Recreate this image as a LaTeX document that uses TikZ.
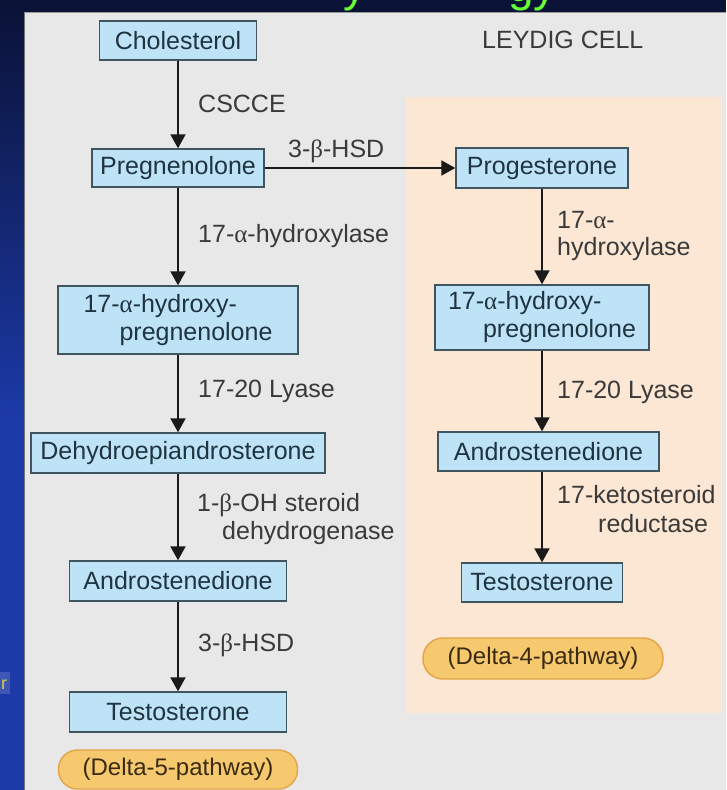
\documentclass[tikz,border=0pt]{standalone}
\usepackage{fontspec}
\setmainfont{Liberation Sans}
\newfontfamily\grk{Liberation Serif}
\usetikzlibrary{arrows.meta}
\definecolor{navy}{HTML}{0A1236}
\definecolor{stripblue}{HTML}{1C3AA8}
\definecolor{panelgrey}{HTML}{E8E8E9}
\definecolor{peach}{HTML}{FBE7D3}
\definecolor{boxfill}{HTML}{BFE3F6}
\definecolor{boxline}{HTML}{3F5661}
\definecolor{boxtext}{HTML}{1F3441}
\definecolor{lbltext}{HTML}{3A3A3A}
\definecolor{pillfill}{HTML}{F6C96F}
\definecolor{pillline}{HTML}{E2A446}
\definecolor{pilltext}{HTML}{3A2A12}
\definecolor{titlegreen}{HTML}{66FF33}
\definecolor{arrowc}{HTML}{1A1A1A}
\definecolor{fragyellow}{HTML}{D8CF45}
\newcommand\myal{{\grk α}}
\newcommand\mybe{{\grk β}}
\begin{document}
\begin{tikzpicture}[x=1pt,y=-1pt,
  box/.style={draw=boxline,line width=1.4pt,fill=boxfill,text=boxtext,inner sep=0pt,font=\fontsize{25}{28}\selectfont},
  lbl/.style={anchor=base west,inner sep=0pt,text=lbltext,font=\fontsize{25}{28}\selectfont},
  pill/.style={draw=pillline,line width=1.4pt,fill=pillfill,text=pilltext,rounded corners=19pt,inner sep=0pt,font=\fontsize{24}{28}\selectfont},
  arr/.style={draw=arrowc,line width=2pt,-{Triangle[length=14pt,width=15pt]}},
  frag/.style={anchor=base west,inner sep=0pt,text=titlegreen,font=\fontsize{46}{50}\selectfont}]
\useasboundingbox (0,0) rectangle (726,790);
% slide background
\fill[navy] (0,0) rectangle (726,12);
\shade[top color=navy,bottom color=stripblue] (0,0) rectangle (24,420);
\fill[stripblue] (0,419) rectangle (24,790);
\fill[panelgrey] (24,12) rectangle (726,790);
\draw[black!55,line width=1.5pt] (24.5,12) -- (24.5,790);
\draw[black!40,line width=1pt] (24,12.5) -- (726,12.5);
\fill[peach] (406,97) rectangle (722,713);
% clipped title fragments
\begin{scope}
\clip (0,0) rectangle (726,11.5);
\node[frag] (tfa) at (343,1) {y};
\node[frag] (tfb) at (508,1) {gy};
\end{scope}
\fill[stripblue!85!white] (0,672) rectangle (10,694);
\node[anchor=base west,inner sep=0pt,text=fragyellow,font=\fontsize{18}{20}\selectfont] (frag) at (1,689) {r};
% title
\node[lbl] (title) at (482,48) {LEYDIG CELL};
% left column (Delta-5)
\node[box,minimum width=157pt,minimum height=39pt] (chol) at (178,40.5) {Cholesterol};
\node[box,minimum width=172pt,minimum height=38pt] (preg) at (178,168) {Pregnenolone};
\node[box,minimum width=240pt,minimum height=68pt,align=left] (hpa) at (178,320) {17-\myal-hydroxy-\\\hspace*{36pt}pregnenolone};
\node[box,minimum width=294pt,minimum height=40pt] (dhea) at (178,453) {Dehydroepiandrosterone};
\node[box,minimum width=217pt,minimum height=40pt] (anda) at (178,581) {Androstenedione};
\node[box,minimum width=217pt,minimum height=40pt] (testa) at (178,712) {Testosterone};
\node[pill,minimum width=239pt,minimum height=39pt] (pilla) at (178,769.5) {(Delta-5-pathway)};
% right column (Delta-4)
\node[box,minimum width=172pt,minimum height=40pt] (prog) at (542,168) {Progesterone};
\node[box,minimum width=214pt,minimum height=65pt,align=left] (hpb) at (542,317.5) {17-\myal-hydroxy-\\\hspace*{35pt}pregnenolone};
\node[box,minimum width=221pt,minimum height=39pt] (andb) at (548.5,451.5) {Androstenedione};
\node[box,minimum width=161pt,minimum height=39pt] (testb) at (542,582.5) {Testosterone};
\node[pill,minimum width=240pt,minimum height=41pt,rounded corners=20pt] (pillb) at (543,658.5) {(Delta-4-pathway)};
% enzyme labels
\node[lbl] (la) at (198,112) {CSCCE};
\node[lbl] (lb) at (288,157) {3-\mybe-HSD};
\node[lbl] (lc) at (198,242) {17-\myal-hydroxylase};
\node[lbl] (ld) at (198,397) {17-20 Lyase};
\node[lbl] (le) at (197,511) {1-\mybe-OH steroid};
\node[lbl] (lf) at (222,539) {dehydrogenase};
\node[lbl] (lg) at (198,651) {3-\mybe-HSD};
\node[lbl] (ra) at (557,228) {17-\myal-};
\node[lbl] (rb) at (557,255) {hydroxylase};
\node[lbl] (rc) at (557,398) {17-20 Lyase};
\node[lbl] (rd) at (557,503) {17-ketosteroid};
\node[lbl] (re) at (598,532) {reductase};
% arrows
\draw[arr] (chol.south) -- (preg.north);
\draw[arr] (preg.south) -- (hpa.north);
\draw[arr] (hpa.south) -- (dhea.north);
\draw[arr] (dhea.south) -- (anda.north);
\draw[arr] (anda.south) -- (testa.north);
\draw[arr] (preg.east) -- (prog.west);
\draw[arr] (prog.south) -- (hpb.north);
\draw[arr] (hpb.south) -- (hpb.south |- andb.north);
\draw[arr] (testb.north |- andb.south) -- (testb.north);
\end{tikzpicture}
\end{document}
